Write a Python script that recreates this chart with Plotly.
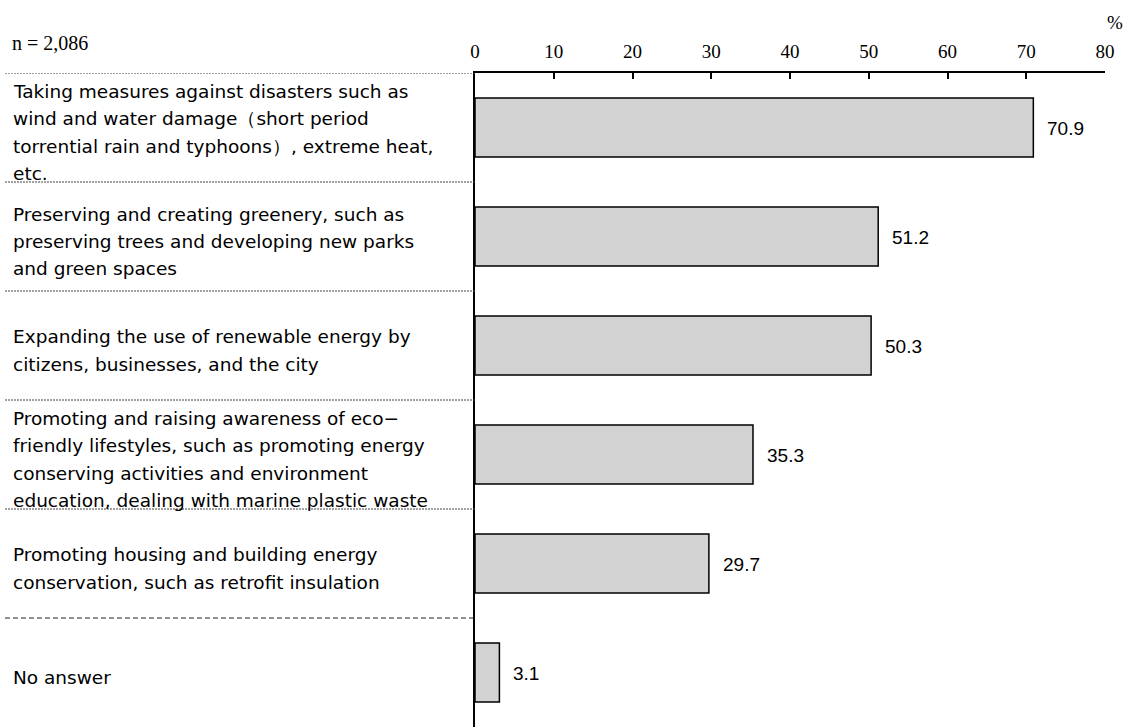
import plotly.graph_objects as go

# ---- data ----
categories = [
    "Taking measures against disasters such as<br>wind and water damage（short period<br>torrential rain and typhoons）, extreme heat,<br>etc.",
    "Preserving and creating greenery, such as<br>preserving trees and developing new parks<br>and green spaces",
    "Expanding the use of renewable energy by<br>citizens, businesses, and the city",
    "Promoting and raising awareness of eco−<br>friendly lifestyles, such as promoting energy<br>conserving activities and environment<br>education, dealing with marine plastic waste",
    "Promoting housing and building energy<br>conservation, such as retrofit insulation",
    "No answer",
]
values = [70.9, 51.2, 50.3, 35.3, 29.7, 3.1]
value_labels = ["70.9", "51.2", "50.3", "35.3", "29.7", "3.1"]
tick_values = [0, 10, 20, 30, 40, 50, 60, 70, 80]
tick_labels = ["0", "10", "20", "30", "40", "50", "60", "70", "80"]
sample_note = "n = 2,086"
unit_label = "%"

W, H = 1136, 727
ML, MR, MT, MB = 475, 31, 73, 0
PW = W - ML - MR

SANS = "DejaVu Sans"
SERIF = "Liberation Serif"

ids = list(range(len(categories)))

fig = go.Figure()
fig.add_trace(go.Bar(
    x=values, y=ids, orientation="h", width=0.54,
    marker=dict(color="#d2d2d2", line=dict(color="#000000", width=1.5)),
    hoverinfo="skip", showlegend=False,
))

annotations = []
# category labels, one annotation per line
pitch = 27.3
for i, cat in enumerate(categories):
    lines = cat.split("<br>")
    n = len(lines)
    for j, ln in enumerate(lines):
        off = ((n - 1) / 2 - j) * pitch - 5
        annotations.append(dict(
            x=0, xref="paper", xshift=-464, xanchor="left",
            y=i, yref="y", yshift=off, yanchor="middle",
            text=ln, showarrow=False,
            font=dict(family=SANS, size=18.5, color="#000000"),
        ))
# value labels
for i, (v, lab) in enumerate(zip(values, value_labels)):
    annotations.append(dict(
        x=v, xref="x", xshift=12, xanchor="left",
        y=i, yref="y", yshift=-1, yanchor="middle",
        text=lab, showarrow=False,
        font=dict(family="Liberation Sans", size=19, color="#000000"),
    ))
# n note and unit
annotations.append(dict(
    x=0, xref="paper", xshift=-465, xanchor="left",
    y=1, yref="paper", yshift=30, yanchor="middle",
    text=sample_note, showarrow=False,
    font=dict(family=SERIF, size=20, color="#000000"),
))
annotations.append(dict(
    x=1, xref="paper", xshift=10, xanchor="center",
    y=1, yref="paper", yshift=51, yanchor="middle",
    text=unit_label, showarrow=False,
    font=dict(family=SERIF, size=19, color="#000000"),
))

# separators
shapes = []
x0p = (5 - ML) / PW
for k in range(len(categories)):
    yb = k - 0.5
    last = (k == len(categories) - 1)
    shapes.append(dict(
        type="line", xref="paper", yref="y",
        x0=x0p, x1=0, y0=yb, y1=yb,
        line=dict(color="#222222" if last else "#444444", width=1,
                  dash="5px,3px" if last else "2px,1px"),
    ))

fig.update_layout(
    width=W, height=H,
    margin=dict(l=ML, r=MR, t=MT, b=MB),
    paper_bgcolor="white", plot_bgcolor="white",
    annotations=annotations,
    shapes=shapes,
    xaxis=dict(
        side="top", range=[0, 80], tickvals=tick_values, ticktext=tick_labels,
        showgrid=False, zeroline=False, showline=True, linecolor="#000000", linewidth=2,
        ticks="inside", ticklen=6, tickwidth=1.5, tickcolor="#000000",
        ticklabelstandoff=5,
        tickfont=dict(family=SERIF, size=19, color="#000000"),
        fixedrange=True,
    ),
    yaxis=dict(
        range=[len(categories) - 0.5, -0.5],
        showticklabels=False, showgrid=False, zeroline=False,
        showline=True, linecolor="#000000", linewidth=2, ticks="",
        fixedrange=True,
    ),
)

fig.write_html(
    "out.html",
    config={"displayModeBar": False},
    post_script="document.body.style.margin='0';document.body.style.padding='0';",
)
